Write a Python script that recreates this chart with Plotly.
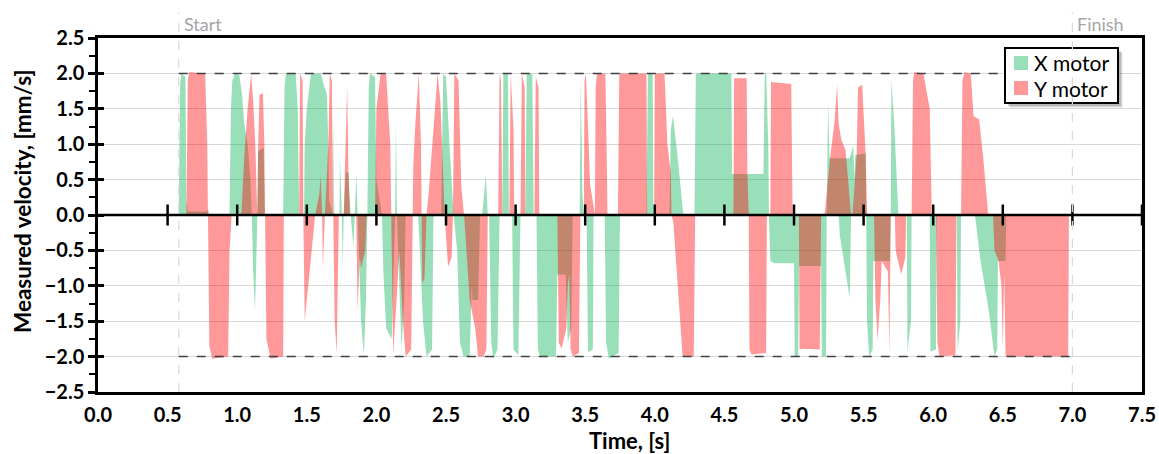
import plotly.graph_objects as go

# ---------------- data ----------------
x_motor_t = [0.58, 0.59, 0.60, 0.628, 0.635, 0.645, 0.78, 0.79, 0.80, 0.945, 0.955, 0.965, 0.985, 1.015, 1.035,
             1.05, 1.075, 1.095, 1.105, 1.115, 1.128, 1.138, 1.145, 1.15, 1.19, 1.198, 1.33, 1.34, 1.35, 1.42,
             1.435, 1.445, 1.48, 1.485, 1.50, 1.53, 1.60, 1.62, 1.645, 1.655, 1.66, 1.69, 1.693, 1.697, 1.735,
             1.738, 1.745, 1.752, 1.758, 1.765, 1.78, 1.80, 1.815, 1.835, 1.845, 1.855, 1.865, 1.89, 1.91, 1.925,
             1.935, 1.945, 1.955, 1.99, 2.00, 2.04, 2.05, 2.07, 2.11, 2.13, 2.135, 2.14, 2.148, 2.165, 2.18,
             2.20, 2.21, 2.30, 2.32, 2.335, 2.36, 2.40, 2.41, 2.465, 2.48, 2.50, 2.525, 2.545, 2.555, 2.58,
             2.60, 2.625, 2.67, 2.685, 2.69, 2.73, 2.745, 2.76, 2.786, 2.80, 2.81, 2.825, 2.84, 2.87, 2.885,
             2.905, 2.912, 2.945, 2.952, 2.975, 2.985, 3.02, 3.035, 3.07, 3.08, 3.12, 3.13, 3.15, 3.16, 3.175,
             3.29, 3.30, 3.36, 3.375, 3.40, 3.41, 3.46, 3.468, 3.48, 3.49, 3.51, 3.52, 3.555, 3.56, 3.64,
             3.65, 3.67, 3.74, 3.75, 3.94, 3.95, 3.985, 3.99, 4.105, 4.11, 4.115, 4.13, 4.16, 4.19, 4.205,
             4.285, 4.295, 4.55, 4.555, 4.78, 4.79, 4.80, 4.815, 4.82, 4.83, 4.86, 5.0, 5.005, 5.03, 5.036,
             5.195, 5.20, 5.23, 5.235, 5.245, 5.255, 5.40, 5.415, 5.425, 5.435, 5.44, 5.515, 5.52, 5.525, 5.54,
             5.565, 5.57, 5.69, 5.695, 5.70, 5.72, 5.74, 5.75, 5.81, 5.815, 5.84, 5.845, 5.975, 5.98, 6.02,
             6.025, 6.17, 6.175, 6.195, 6.20, 6.30, 6.34, 6.40, 6.44, 6.46, 6.465, 6.52, 6.525, 7.0,
             None, 5.32, 5.33, 5.40, 5.405, 5.41]
x_motor_v = [0, 1.85, 2.0, 1.95, 0.2, 0.05, 0.05, 0.08, 0, 0, 1.5, 1.9, 2.0, 1.98, 1.7,
             1.3, 1.0, 0.5, 0, -0.8, -1.36, -0.6, 0, 0.9, 0.95, 0, 0, 1.8, 2.0, 2.0,
             1.5, 0, 0, 1.0, 1.5, 2.0, 2.0, 1.85, 1.7, 1.0, 0.2, 0, 1.54, 0, 0,
             0.82, 0.5, 0, -0.75, 0, 0.6, 0.6, 0, -0.45, 0, 0.58, 0, -1.5, -1.98, -1.2,
             0, 1.8, 2.0, 1.95, 0.5, 0, -0.8, -1.6, -1.75, -0.3, 0, 1.35, 0, -1.0, -1.89,
             -1.2, 0, 0, -0.96, -1.5, -2.0, -1.9, 0, 0, 2.0, 1.95, 1.0, 0.2, 0, -0.5,
             -1.8, -2.0, -2.0, -1.0, -1.2, -1.2, 0, 0, 0.56, 0, 0, -1.8, -2.03, -1.9, 0,
             0, 2.0, 2.0, 0, 0, -1.9, -1.98, 0, 0, 2.0, 2.0, 0, 0, -1.9, -2.0,
             -2.0, -0.84, -0.84, -1.8, -1.6, 0, 0, 1.9, 0.3, 0, 0, -1.94, -1.9, 0, 0,
             -1.8, -2.03, -1.95, 0, 0, 2.0, 2.0, 0, 0, 1.0, 1.2, 1.4, 0.9, 0.3, 0,
             0, 2.0, 2.0, 0.58, 0.58, 2.0, 2.0, 1.0, 0, -0.65, -0.68, -0.68, -2.0, -2.0, -0.72,
             -0.72, -2.0, -2.0, 0, 1.6, 0.8, 0.8, 0.9, 0.99, 0.5, 0.85, 0.87, 0, -1.5, -2.0,
             -1.9, -0.65, -0.65, 0, 1.91, 1.3, 0.3, 0, 0, -1.93, -1.5, 0, 0, -1.93, -1.9,
             0, 0, -1.91, -1.5, 0, 0, -0.65, -1.36, -2.0, -1.9, -0.65, -0.65, 0, 0,
             None, 0, -0.3, -1.17, -0.6, 0]

y_motor_t = [0.58, 0.635, 0.645, 0.655, 0.77, 0.785, 0.79, 0.795, 0.80, 0.82, 0.935, 0.945, 0.96, 1.03, 1.05,
             1.075, 1.10, 1.115, 1.13, 1.14, 1.145, 1.15, 1.16, 1.185, 1.195, 1.20, 1.205, 1.21, 1.24, 1.33,
             1.335, 1.445, 1.452, 1.47, 1.475, 1.48, 1.485, 1.52, 1.56, 1.59, 1.60, 1.61, 1.615, 1.63, 1.655,
             1.665, 1.68, 1.69, 1.70, 1.715, 1.73, 1.765, 1.775, 1.79, 1.80, 1.81, 1.855, 1.865, 1.88, 1.89,
             1.92, 1.93, 1.99, 2.00, 2.03, 2.07, 2.10, 2.108, 2.12, 2.145, 2.165, 2.19, 2.21, 2.25, 2.258,
             2.265, 2.28, 2.305, 2.32, 2.325, 2.33, 2.345, 2.36, 2.375, 2.40, 2.44, 2.46, 2.49, 2.515, 2.54,
             2.55, 2.56, 2.59, 2.61, 2.63, 2.65, 2.67, 2.71, 2.73, 2.77, 2.79, 2.80, 2.875, 2.885, 2.895,
             2.905, 2.955, 2.965, 2.985, 2.99, 3.035, 3.045, 3.065, 3.07, 3.135, 3.145, 3.165, 3.17, 3.30, 3.31,
             3.33, 3.365, 3.375, 3.385, 3.395, 3.41, 3.455, 3.465, 3.49, 3.495, 3.505, 3.525, 3.535, 3.57, 3.575,
             3.585, 3.645, 3.655, 3.66, 3.735, 3.745, 3.94, 3.945, 3.995, 4.0, 4.07, 4.09, 4.115, 4.12, 4.133,
             4.169, 4.178, 4.20, 4.28, 4.29, 4.565, 4.57, 4.66, 4.665, 4.675, 4.68, 4.695, 4.80, 4.805, 4.83,
             4.835, 4.98, 4.99, 5.035, 5.04, 5.06, 5.185, 5.195, 5.22, 5.26, 5.29, 5.31, 5.32, 5.34, 5.37,
             5.395, 5.41, 5.42, 5.45, 5.46, 5.49, 5.515, 5.525, 5.575, 5.585, 5.60, 5.62, 5.63, 5.675, 5.685,
             5.695, 5.725, 5.73, 5.77, 5.80, 5.805, 5.845, 5.855, 5.865, 5.93, 5.975, 5.99, 6.02, 6.03, 6.045,
             6.16, 6.167, 6.20, 6.21, 6.225, 6.27, 6.29, 6.33, 6.36, 6.395, 6.43, 6.44, 6.47, 6.49, 6.50,
             6.51, 6.52, 6.97, 6.975, 7.0]
y_motor_v = [0, 0, 1.9, 2.02, 2.0, 1.0, 0, -1.0, -1.85, -2.03, -2.0, -0.5, 0, 0, 0.8,
             1.5, 2.0, 1.6, 1.0, 0.3, 0, 0.9, 1.7, 1.72, 1.0, 0, -1.0, -1.75, -2.03, -2.0,
             0, 0, 2.0, 1.9, 0, -1.0, -1.5, -0.8, 0, 0.3, 0.56, 0, -0.75, 0, 1.0,
             2.0, 1.9, 0, -1.5, -1.96, 0, 0, 0.63, 1.82, 0.5, 0, 0, -1.36, -0.6, -0.75,
             -0.5, 0, 0, 1.5, 2.0, 2.0, 1.0, 0, -1.97, -1.2, -0.5, -1.5, -2.0, -1.9, 0,
             0.7, 1.3, 2.0, 1.0, 0, -0.96, -0.9, 0, 0.3, 1.0, 2.0, 1.6, 0, -0.73, -0.6,
             0, 2.0, 1.9, 0.4, 0, -0.6, -1.2, -1.6, -2.0, -2.0, -1.9, 0, 0, 2.0, 1.9,
             0, 0, 2.0, 1.2, 0, 0, 2.0, 1.8, 0, 0, 1.95, 1.8, 0, 0, -1.8,
             -1.89, -1.6, -1.0, -0.84, -1.9, -2.0, -1.95, 0, 0, 1.9, 2.0, 1.0, 0.44, 0, 1.8,
             2.0, 2.0, 0.8, 0, 0, 2.0, 2.0, 0, 0, 2.0, 2.0, 1.0, 0.6, 0, -0.1,
             -1.05, -1.3, -2.0, -2.0, 0, 0, 1.93, 1.93, 0.58, 0, -1.9, -1.97, -1.95, 0, 0,
             1.88, 1.85, 0, 0, -1.9, -1.89, -1.9, 0, 0, 0.82, 1.3, 1.84, 1.3, 1.06, 0.92,
             0.4, 0, 0, 0.85, 1.8, 1.84, 0.85, 0, 0, -1.2, -1.77, -1.2, -0.65, -0.8, -1.98,
             0, 0, -0.5, -0.84, -0.6, 0, 0, 1.9, 2.02, 2.0, 1.5, 0, 0, -1.8, -2.0,
             -1.98, 0, 0, 1.9, 2.02, 2.0, 1.4, 1.35, 0.8, 0, 0, -0.5, -0.65, -1.0, -1.9,
             -0.8, -2.0, -2.0, 0, 0]

zero_axis_ticks = [0.5, 1.0, 1.5, 2.0, 2.5, 3.0, 3.5, 4.0, 4.5, 5.0, 5.5, 6.0, 6.5, 7.0, 7.5]
start_time = 0.58
finish_time = 7.0
limit_velocity = 2.0
legend_names = ["X motor", "Y motor"]
x_title = "Time, [s]"
y_title = "Measured velocity, [mm/s]"

GREEN = "rgba(0,176,80,0.4)"
RED = "rgba(255,0,0,0.4)"
FONT = "Lato"

# plot-area geometry (px) used to place the hand-drawn legend box and titles
W, H = 1159, 454
ML, MR, MT, MB = 98, 17, 38, 62
PW, PH = W - ML - MR, H - MT - MB


def px_x(p):
    return (p - ML) / PW


def px_y(p):
    return (H - MB - p) / PH


fig = go.Figure()
fig.add_trace(go.Scatter(x=x_motor_t, y=x_motor_v, mode="lines", fill="tozeroy", name=legend_names[0],
                         fillcolor=GREEN, line=dict(width=0, color=GREEN), showlegend=False,
                         connectgaps=False, hoverinfo="skip"))
fig.add_trace(go.Scatter(x=y_motor_t, y=y_motor_v, mode="lines", fill="tozeroy", name=legend_names[1],
                         fillcolor=RED, line=dict(width=0, color=RED), showlegend=False,
                         hoverinfo="skip"))
# tick marks crossing the zero axis
fig.add_trace(go.Scatter(x=zero_axis_ticks, y=[0] * len(zero_axis_ticks), mode="markers",
                         marker=dict(symbol="line-ns", size=15, line=dict(width=2.5, color="black")),
                         showlegend=False, hoverinfo="skip"))
# invisible trace holding the inner-tick axis
fig.add_trace(go.Scatter(x=[None], y=[None], yaxis="y2", showlegend=False, hoverinfo="skip"))

# zero axis line
fig.add_shape(type="line", xref="x", yref="y", x0=0, x1=7.5, y0=0, y1=0,
              line=dict(color="black", width=2.5), layer="above")
# +/- limit lines
for lv in (limit_velocity, -limit_velocity):
    fig.add_shape(type="line", xref="x", yref="y", x0=start_time, x1=finish_time, y0=lv, y1=lv,
                  line=dict(color="#404040", width=1.5, dash="dash"), layer="above")

# legend box with soft drop shadow
for d, a in ((5, 0.06), (4, 0.10), (3, 0.14)):
    fig.add_shape(type="rect", xref="paper", yref="paper",
                  x0=px_x(1005 + d), x1=px_x(1118 + d), y0=px_y(103 + d), y1=px_y(48 + d),
                  fillcolor="rgba(0,0,0,%.2f)" % a, line=dict(width=0), layer="above")
fig.add_shape(type="rect", xref="paper", yref="paper",
              x0=px_x(1005), x1=px_x(1118), y0=px_y(103), y1=px_y(48),
              fillcolor="white", line=dict(width=2, color="black"), layer="above")
for i, (nm, col) in enumerate(zip(legend_names, (GREEN, RED))):
    cy = 63 + 25 * i
    fig.add_shape(type="rect", xref="paper", yref="paper",
                  x0=px_x(1014), x1=px_x(1028), y0=px_y(cy + 7), y1=px_y(cy - 7),
                  fillcolor=col, line=dict(width=0), layer="above")
    fig.add_annotation(x=px_x(1032), y=px_y(cy), xref="paper", yref="paper", text=nm,
                       showarrow=False, xanchor="left", yanchor="middle",
                       font=dict(family=FONT, size=21, color="black"))

# start / finish markers (drawn over the legend, as in the reference)
for tt, label in ((start_time, "Start"), (finish_time, "Finish")):
    fig.add_shape(type="line", xref="x", yref="paper", x0=tt, x1=tt, y0=0, y1=1.072,
                  line=dict(color="#d9d9d9", width=1.2, dash="dash"), layer="above")
    fig.add_annotation(x=tt, y=1.004, xref="x", yref="paper", text=label, showarrow=False,
                       xanchor="left", yanchor="bottom", xshift=3,
                       font=dict(family=FONT, size=18, color="#a6a6a6"))

# axis titles
fig.add_annotation(x=px_x(630), y=px_y(440), xref="paper", yref="paper", text=x_title,
                   showarrow=False, xanchor="center", yanchor="middle",
                   font=dict(family=FONT, size=22, weight="bold", color="black"))
fig.add_annotation(x=px_x(22), y=px_y(201), xref="paper", yref="paper", text=y_title,
                   showarrow=False, xanchor="center", yanchor="middle", textangle=-90,
                   font=dict(family=FONT, size=22.5, weight="bold", color="black"))

fig.update_layout(
    width=W, height=H,
    margin=dict(l=ML, r=MR, t=MT, b=MB, autoexpand=False),
    plot_bgcolor="white", paper_bgcolor="white",
    font=dict(family=FONT, size=20, color="black"),
    showlegend=False,
    hovermode=False,
    yaxis2=dict(overlaying="y", side="left", range=[-2.5, 2.5], dtick=0.5, tick0=0,
                showticklabels=False, showgrid=False, zeroline=False, showline=False,
                ticks="inside", ticklen=6, tickwidth=2.5, tickcolor="black", automargin=False),
)
fig.update_xaxes(range=[0, 7.5], dtick=0.5, tick0=0, tickformat=".1f",
                 showgrid=False, zeroline=False, showline=True, linecolor="black",
                 linewidth=2.5, mirror=True, ticks="", automargin=False,
                 tickfont=dict(family=FONT, size=20, weight="bold"),
                 ticklabelstandoff=3)
fig.layout.yaxis.update(range=[-2.5, 2.5], dtick=0.5, tick0=0, tickformat=".1f",
                        showgrid=True, gridcolor="#d9d9d9", gridwidth=1, zeroline=False,
                        showline=True, linecolor="black", linewidth=2.5, mirror=True,
                        ticks="outside", ticklen=7, tickwidth=2.5, tickcolor="black", automargin=False,
                        minor=dict(dtick=0.25, ticks="outside", ticklen=6, tickwidth=2, tickcolor="black",
                                   showgrid=False),
                        tickfont=dict(family=FONT, size=20, weight="bold"))

fig.write_html("out.html", config={"displayModeBar": False},
               post_script="document.body.style.margin='0';document.body.style.padding='0';")
